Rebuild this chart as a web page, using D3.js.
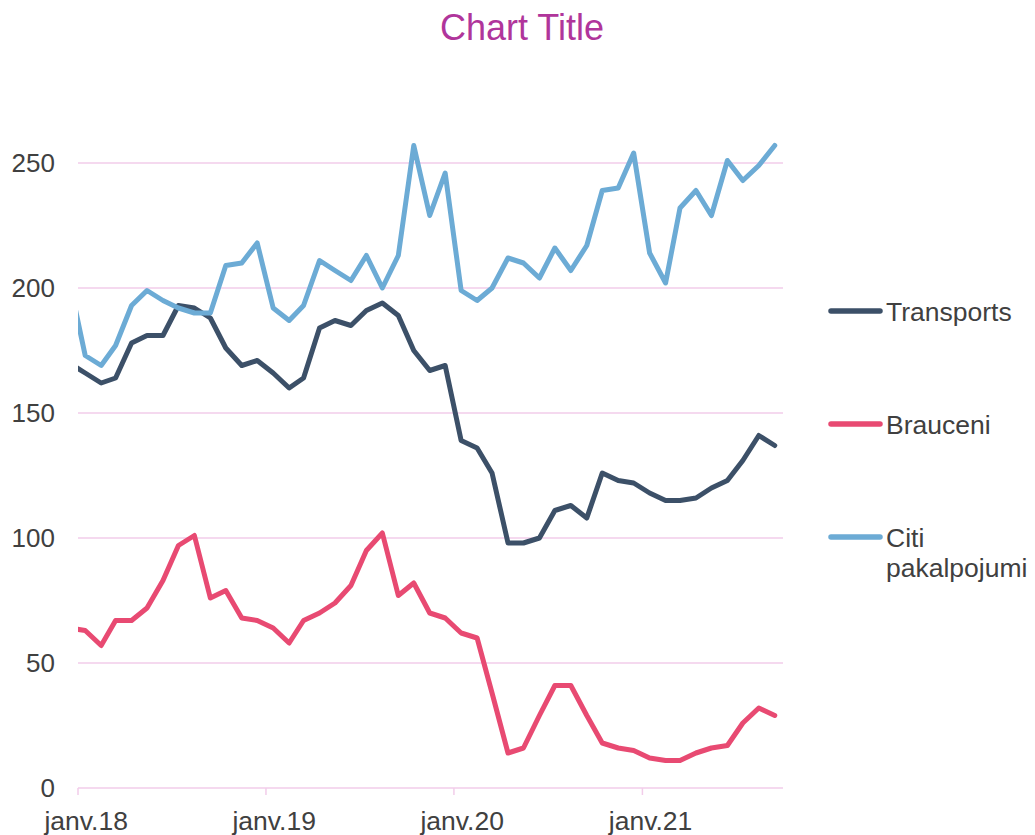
<!DOCTYPE html>
<html>
<head>
<meta charset="utf-8">
<script src="https://cdn.jsdelivr.net/npm/d3@7"></script>
<style>
  body { margin: 0; background: #fff; }
  svg { display: block; font-family: "Liberation Sans", Arial, sans-serif; }
</style>
</head>
<body>
<svg id="chart" width="1035" height="835"></svg>
<script>
// monthly observations (first one sits left of the axis start and gets clipped)
const months = [
  '2017-12',
  '2018-01','2018-02','2018-03','2018-04','2018-05','2018-06','2018-07','2018-08','2018-09','2018-10','2018-11','2018-12',
  '2019-01','2019-02','2019-03','2019-04','2019-05','2019-06','2019-07','2019-08','2019-09','2019-10','2019-11','2019-12',
  '2020-01','2020-02','2020-03','2020-04','2020-05','2020-06','2020-07','2020-08','2020-09','2020-10','2020-11','2020-12',
  '2021-01','2021-02','2021-03','2021-04','2021-05','2021-06','2021-07','2021-08','2021-09'
];

const transports = [170,
  166,162,164,178,181,181,193,192,188,176,169,171,
  166,160,164,184,187,185,191,194,189,175,167,169,
  139,136,126,98,98,100,111,113,108,126,123,122,
  118,115,115,116,120,123,131,141,137];

const brauceni = [64,
  63,57,67,67,72,83,97,101,76,79,68,67,
  64,58,67,70,74,81,95,102,77,82,70,68,
  62,60,38,14,16,29,41,41,29,18,16,15,
  12,11,11,14,16,17,26,32,29];

const citi = [203,
  173,169,177,193,199,195,192,190,190,209,210,218,
  192,187,193,211,207,203,213,200,213,257,229,246,
  199,195,200,212,210,204,216,207,217,239,240,254,
  214,202,232,239,229,251,243,249,257];

const seriesNames = ['Transports', 'Brauceni', 'Citi pakalpojumi'];
const seriesColors = ['#3c5068', '#e84a72', '#6cabd5'];
const yTicks = [0, 50, 100, 150, 200, 250];
const xTickYears = ['2018', '2019', '2020', '2021'];
const xTickLabels = ['janv.18', 'janv.19', 'janv.20', 'janv.21'];

const svg = d3.select('#chart');
const margin = {left: 78, right: 252, top: 163, bottom: 47};
const width = 1035, height = 835;

const parseMonth = d3.timeParse('%Y-%m');
const midMonth = (m) => d3.timeDay.offset(parseMonth(m), 14);

const x = d3.scaleTime()
  .domain([new Date(2018, 0, 1), new Date(2021, 9, 1)])
  .range([margin.left, width - margin.right]);
const y = d3.scaleLinear()
  .domain([0, 250])
  .range([height - margin.bottom, margin.top]);

// title
svg.append('text')
  .attr('x', 522).attr('y', 40)
  .attr('text-anchor', 'middle')
  .attr('fill', '#b0359b')
  .style('font-size', '36px')
  .text('Chart Title');

// gridlines
svg.append('g')
  .selectAll('line')
  .data(yTicks)
  .join('line')
  .attr('x1', x.range()[0]).attr('x2', x.range()[1])
  .attr('y1', d => y(d)).attr('y2', d => y(d))
  .attr('stroke', '#f2cdea')
  .attr('stroke-width', 1.5);

// y labels
svg.append('g')
  .selectAll('text')
  .data(yTicks)
  .join('text')
  .attr('x', 55)
  .attr('y', d => y(d))
  .attr('dy', '0.36em')
  .attr('text-anchor', 'end')
  .attr('fill', '#404040')
  .style('font-size', '26px')
  .text(d => d);

// x axis ticks + labels
const yearDates = xTickYears.map(t => new Date(+t, 0, 1));
svg.append('g')
  .selectAll('line')
  .data(yearDates)
  .join('line')
  .attr('x1', d => x(d)).attr('x2', d => x(d))
  .attr('y1', y(0)).attr('y2', y(0) + 7)
  .attr('stroke', '#f2cdea')
  .attr('stroke-width', 1.5);

svg.append('g')
  .selectAll('text')
  .data(xTickLabels)
  .join('text')
  .attr('x', (d, i) => x(d3.timeDay.offset(yearDates[i], 14)) + 1)
  .attr('y', 830)
  .attr('text-anchor', 'middle')
  .attr('fill', '#404040')
  .style('font-size', '26.5px')
  .text(d => d);

// clip to plot area
svg.append('clipPath').attr('id', 'plot')
  .append('rect')
  .attr('x', x.range()[0]).attr('y', 100)
  .attr('width', x.range()[1] - x.range()[0])
  .attr('height', height - 100);

const line = d3.line()
  .x((d, i) => x(midMonth(months[i])))
  .y(d => y(d));

const allSeries = [transports, brauceni, citi];
svg.append('g')
  .attr('clip-path', 'url(#plot)')
  .selectAll('path')
  .data(allSeries)
  .join('path')
  .attr('d', d => line(d))
  .attr('fill', 'none')
  .attr('stroke', (d, i) => seriesColors[i])
  .attr('stroke-width', 5)
  .attr('stroke-linejoin', 'round')
  .attr('stroke-linecap', 'round');

// legend
const legendY = [311, 424, 537];
const legend = svg.append('g');
seriesNames.forEach((name, i) => {
  legend.append('line')
    .attr('x1', 831).attr('x2', 880)
    .attr('y1', legendY[i]).attr('y2', legendY[i])
    .attr('stroke', seriesColors[i])
    .attr('stroke-width', 5.5)
    .attr('stroke-linecap', 'round');
  const t = legend.append('text')
    .attr('x', 886)
    .attr('y', legendY[i])
    .attr('fill', '#404040')
    .style('font-size', '26.5px');
  const parts = name === 'Citi pakalpojumi' ? ['Citi', 'pakalpojumi'] : [name];
  parts.forEach((p, j) => {
    t.append('tspan')
      .attr('x', 886)
      .attr('dy', j === 0 ? '0.36em' : '1.15em')
      .text(p);
  });
});
</script>
</body>
</html>
